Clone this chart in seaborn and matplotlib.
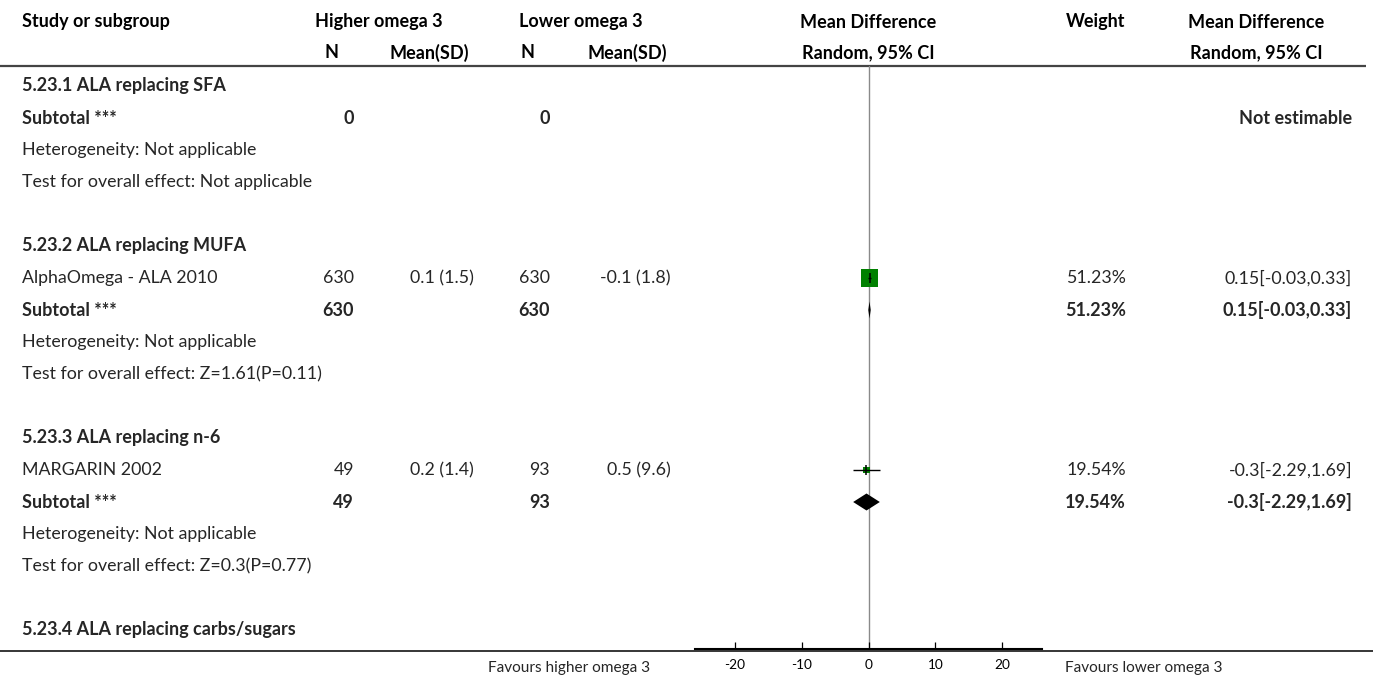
import matplotlib
matplotlib.use("Agg")
import matplotlib.pyplot as plt
import seaborn as sns
import pandas as pd
import numpy as np

# ---------------- data ----------------
row_labels = [
    "5.23.1 ALA replacing SFA", "Subtotal ***", "Heterogeneity: Not applicable",
    "Test for overall effect: Not applicable", "",
    "5.23.2 ALA replacing MUFA", "AlphaOmega - ALA 2010", "Subtotal ***",
    "Heterogeneity: Not applicable", "Test for overall effect: Z=1.61(P=0.11)", "",
    "5.23.3 ALA replacing n-6", "MARGARIN 2002", "Subtotal ***",
    "Heterogeneity: Not applicable", "Test for overall effect: Z=0.3(P=0.77)", "",
    "5.23.4 ALA replacing carbs/sugars",
]
row_kinds = ["group", "subtotal", "note", "note", "blank",
             "group", "study", "subtotal", "note", "note", "blank",
             "group", "study", "subtotal", "note", "note", "blank",
             "group"]
n_higher = ["", "0", "", "", "", "", "630", "630", "", "", "", "", "49", "49", "", "", "", ""]
msd_higher = ["", "", "", "", "", "", "0.1 (1.5)", "", "", "", "", "", "0.2 (1.4)", "", "", "", "", ""]
n_lower = ["", "0", "", "", "", "", "630", "630", "", "", "", "", "93", "93", "", "", "", ""]
msd_lower = ["", "", "", "", "", "", "-0.1 (1.8)", "", "", "", "", "", "0.5 (9.6)", "", "", "", "", ""]
weight_txt = ["", "", "", "", "", "", "51.23%", "51.23%", "", "", "", "", "19.54%", "19.54%", "", "", "", ""]
md_txt = ["", "Not estimable", "", "", "", "", "0.15[-0.03,0.33]", "0.15[-0.03,0.33]", "", "", "", "",
          "-0.3[-2.29,1.69]", "-0.3[-2.29,1.69]", "", "", "", ""]

# study-level estimates (row index, MD, CI, weight)
study_row = [6, 12]
study_md = [0.15, -0.3]
study_lo = [-0.03, -2.29]
study_hi = [0.33, 1.69]
study_weight = [51.23, 19.54]

# subtotal estimates
sub_row = [7, 13]
sub_md = [0.15, -0.3]
sub_lo = [-0.03, -2.29]
sub_hi = [0.33, 1.69]

x_ticks = [-20, -10, 0, 10, 20]
left_label = "Favours higher omega 3"
right_label = "Favours lower omega 3"

# ---------------- layout ----------------
W, H = 1373, 677
sns.set_theme(style="white")
plt.rcParams["font.family"] = ["Lato", "DejaVu Sans"]
FS = 12.8
FSB = 13.0

fig = plt.figure(figsize=(W / 100, H / 100), dpi=100)
ax = fig.add_axes([0, 0, 1, 1])
ax.set_xlim(0, W)
ax.set_ylim(H, 0)
ax.axis("off")

def row_y(i):
    return 86 + 32 * i

# headers
hdr = dict(fontsize=FSB, fontweight="bold", va="center", color="black")
ax.text(22, 22, "Study or subgroup", ha="left", **hdr)
ax.text(379, 22, "Higher omega 3", ha="center", **hdr)
ax.text(581, 22, "Lower omega 3", ha="center", **hdr)
ax.text(331, 53, "N", ha="center", **hdr)
ax.text(429, 53, "Mean(SD)", ha="center", **hdr)
ax.text(527, 53, "N", ha="center", **hdr)
ax.text(627, 53, "Mean(SD)", ha="center", **hdr)
ax.text(868, 22, "Mean Difference", ha="center", **hdr)
ax.text(868, 53, "Random, 95% CI", ha="center", **hdr)
ax.text(1096, 22, "Weight", ha="center", **hdr)
ax.text(1256, 22, "Mean Difference", ha="center", **hdr)
ax.text(1256, 53, "Random, 95% CI", ha="center", **hdr)

ax.plot([0, 1366], [66, 66], color="#444444", lw=1.6, solid_capstyle="butt")
ax.plot([0, W], [651, 651], color="black", lw=1.1, solid_capstyle="butt")

for i, lab in enumerate(row_labels):
    kind = row_kinds[i]
    if kind == "blank":
        continue
    bold = kind in ("group", "subtotal")
    fw = "bold" if bold else "normal"
    fs = FSB if bold else FS
    sub_fw = "bold" if kind == "subtotal" else "normal"
    sfs = FSB if kind == "subtotal" else FS
    y = row_y(i)
    ax.text(22, y, lab, ha="left", va="center", fontsize=fs, fontweight=fw)
    ax.text(354, y, n_higher[i], ha="right", va="center", fontsize=sfs, fontweight=sub_fw)
    ax.text(474, y, msd_higher[i], ha="right", va="center", fontsize=FS)
    ax.text(550, y, n_lower[i], ha="right", va="center", fontsize=sfs, fontweight=sub_fw)
    ax.text(671, y, msd_lower[i], ha="right", va="center", fontsize=FS)
    ax.text(1126, y, weight_txt[i], ha="right", va="center", fontsize=sfs, fontweight=sub_fw)
    ax.text(1352, y, md_txt[i], ha="right", va="center", fontsize=sfs, fontweight=sub_fw)

ax.text(650, 668, left_label, ha="right", va="center", fontsize=11.1)
ax.text(1065, 668, right_label, ha="left", va="center", fontsize=11.1)

# ---------------- forest panel ----------------
fx0, fx1, fy_top, fy_bot = 695, 1042, 66, 649
fax = fig.add_axes([fx0 / W, (H - fy_bot) / H, (fx1 - fx0) / W, (fy_bot - fy_top) / H])
fax.set_facecolor("none")
fax.set_xlim(-25.9, 25.9)
fax.set_ylim(fy_bot, fy_top)
for s in ("top", "left", "right"):
    fax.spines[s].set_visible(False)
fax.spines["bottom"].set_color("black")
fax.spines["bottom"].set_linewidth(1.5)
fax.set_yticks([])
fax.set_xticks(x_ticks)
fax.set_xticklabels([str(t) for t in x_ticks], fontsize=9.8)
fax.tick_params(axis="x", direction="in", length=5, width=0.9, pad=7, colors="black", bottom=True)
fax.grid(False)

fax.axvline(0, color="#8a8a8a", lw=1.0, zorder=0)

df = pd.DataFrame({
    "md": study_md, "lo": study_lo, "hi": study_hi, "weight": study_weight,
    "y": [row_y(r) for r in study_row],
})
px2pt = 0.72
size_map = {w: (w * 0.335 * px2pt) ** 2 for w in study_weight}
sns.scatterplot(data=df, x="md", y="y", size="weight", sizes=size_map, marker="s",
                color="#008000", linewidth=0, legend=False, ax=fax, zorder=3)
fax.hlines(df["y"], df["lo"], df["hi"], color="black", lw=1.0, zorder=4)
fax.plot(df["md"], df["y"], ls="none", marker="|", ms=6.5, mew=1.1, color="black", zorder=5)

for r, m, lo, hi in zip(sub_row, sub_md, sub_lo, sub_hi):
    y = row_y(r)
    fax.fill([lo, m, hi, m], [y, y - 8.5, y, y + 8.5], color="black", lw=0, zorder=4)

fax.set_xlabel("")
fax.set_ylabel("")

fig.savefig("out.png", dpi=100)
